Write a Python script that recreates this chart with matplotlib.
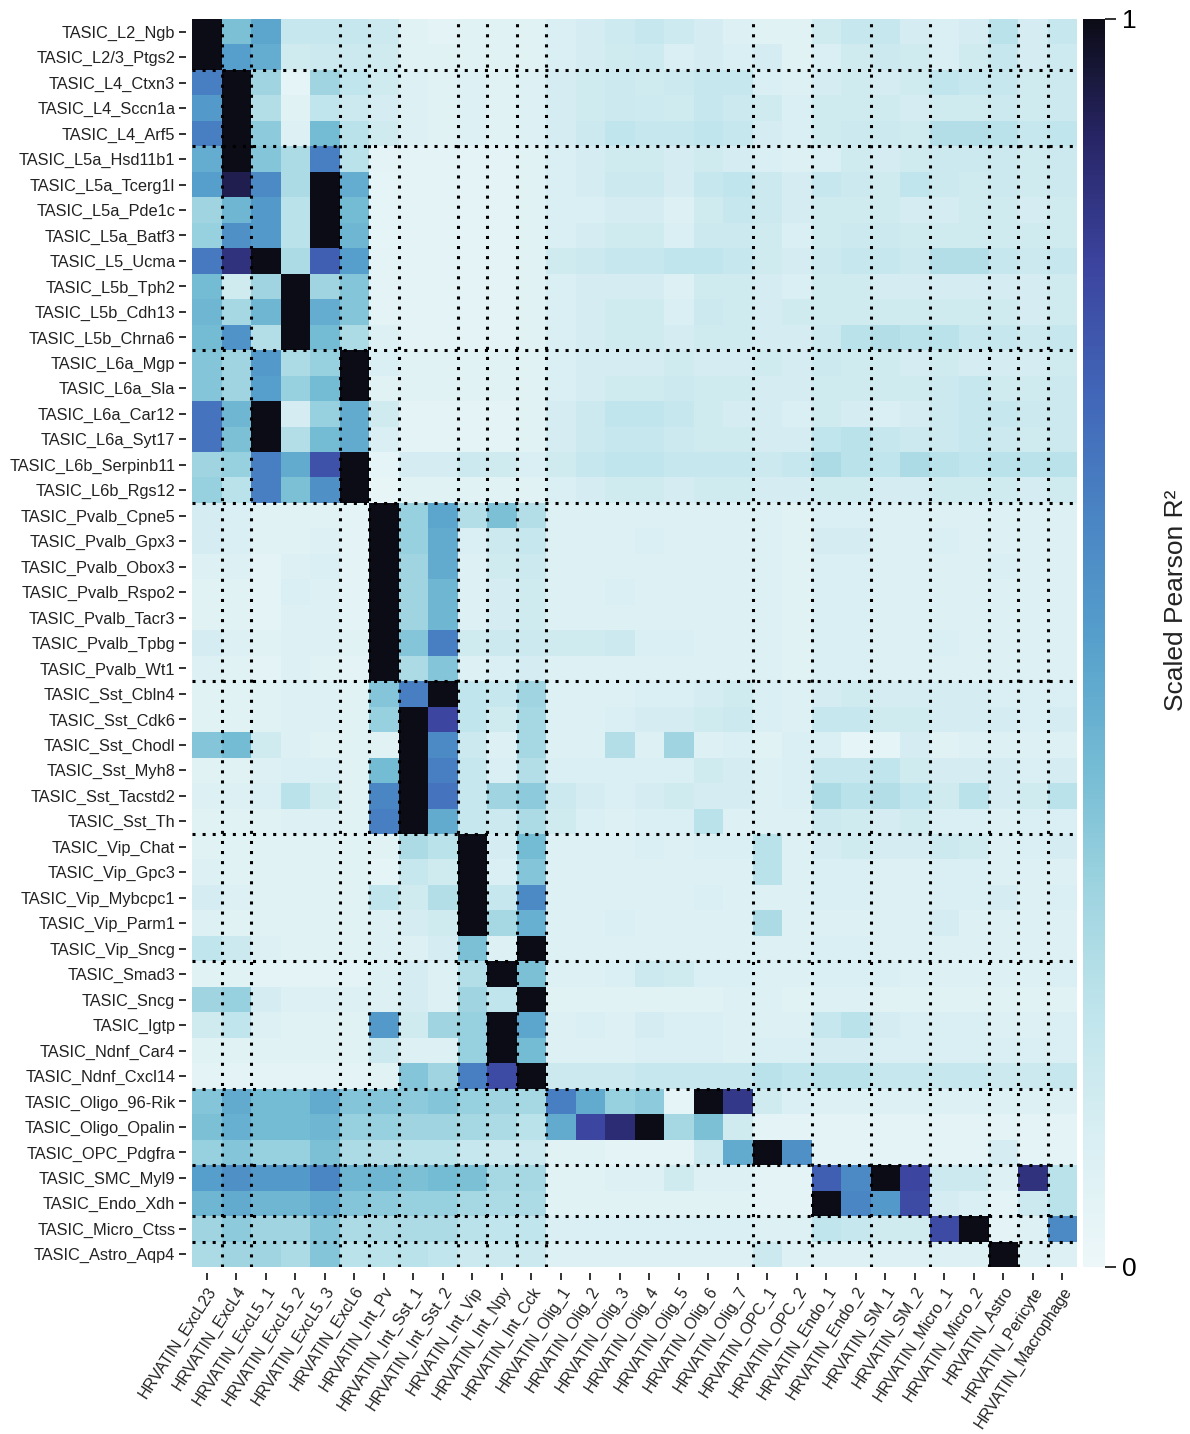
import numpy as np
import matplotlib
matplotlib.use("Agg")
import matplotlib.pyplot as plt
from matplotlib.colors import LinearSegmentedColormap

plt.rcParams['font.family'] = ['Liberation Sans', 'DejaVu Sans']

rows = ["TASIC_L2_Ngb", "TASIC_L2/3_Ptgs2", "TASIC_L4_Ctxn3", "TASIC_L4_Sccn1a", "TASIC_L4_Arf5",
        "TASIC_L5a_Hsd11b1", "TASIC_L5a_Tcerg1l", "TASIC_L5a_Pde1c", "TASIC_L5a_Batf3", "TASIC_L5_Ucma",
        "TASIC_L5b_Tph2", "TASIC_L5b_Cdh13", "TASIC_L5b_Chrna6", "TASIC_L6a_Mgp", "TASIC_L6a_Sla",
        "TASIC_L6a_Car12", "TASIC_L6a_Syt17", "TASIC_L6b_Serpinb11", "TASIC_L6b_Rgs12",
        "TASIC_Pvalb_Cpne5", "TASIC_Pvalb_Gpx3", "TASIC_Pvalb_Obox3", "TASIC_Pvalb_Rspo2",
        "TASIC_Pvalb_Tacr3", "TASIC_Pvalb_Tpbg", "TASIC_Pvalb_Wt1", "TASIC_Sst_Cbln4", "TASIC_Sst_Cdk6",
        "TASIC_Sst_Chodl", "TASIC_Sst_Myh8", "TASIC_Sst_Tacstd2", "TASIC_Sst_Th", "TASIC_Vip_Chat",
        "TASIC_Vip_Gpc3", "TASIC_Vip_Mybcpc1", "TASIC_Vip_Parm1", "TASIC_Vip_Sncg", "TASIC_Smad3",
        "TASIC_Sncg", "TASIC_Igtp", "TASIC_Ndnf_Car4", "TASIC_Ndnf_Cxcl14", "TASIC_Oligo_96-Rik",
        "TASIC_Oligo_Opalin", "TASIC_OPC_Pdgfra", "TASIC_SMC_Myl9", "TASIC_Endo_Xdh",
        "TASIC_Micro_Ctss", "TASIC_Astro_Aqp4"]

cols = ["HRVATIN_ExcL23", "HRVATIN_ExcL4", "HRVATIN_ExcL5_1", "HRVATIN_ExcL5_2", "HRVATIN_ExcL5_3",
        "HRVATIN_ExcL6", "HRVATIN_Int_Pv", "HRVATIN_Int_Sst_1", "HRVATIN_Int_Sst_2", "HRVATIN_Int_Vip",
        "HRVATIN_Int_Npy", "HRVATIN_Int_Cck", "HRVATIN_Olig_1", "HRVATIN_Olig_2", "HRVATIN_Olig_3",
        "HRVATIN_Olig_4", "HRVATIN_Olig_5", "HRVATIN_Olig_6", "HRVATIN_Olig_7", "HRVATIN_OPC_1",
        "HRVATIN_OPC_2", "HRVATIN_Endo_1", "HRVATIN_Endo_2", "HRVATIN_SM_1", "HRVATIN_SM_2",
        "HRVATIN_Micro_1", "HRVATIN_Micro_2", "HRVATIN_Astro", "HRVATIN_Pericyte", "HRVATIN_Macrophage"]

# scaled Pearson R^2, in percent (0-100), one row per TASIC type
values_pct = [
    [100, 38, 48, 18, 18, 18, 16, 6, 5, 6, 6, 6, 10, 12, 15, 18, 15, 12, 8, 6, 6, 14, 18, 18, 12, 10, 12, 22, 12, 18],
    [100, 50, 45, 14, 16, 16, 14, 6, 6, 6, 6, 6, 10, 12, 14, 15, 10, 12, 10, 12, 6, 10, 14, 16, 14, 10, 14, 18, 12, 15],
    [62, 100, 30, 4, 30, 20, 14, 8, 6, 8, 6, 8, 12, 14, 16, 14, 16, 18, 18, 10, 8, 12, 14, 12, 14, 20, 18, 18, 14, 16],
    [52, 100, 24, 6, 20, 16, 12, 8, 6, 8, 6, 8, 12, 14, 16, 15, 14, 18, 16, 14, 10, 14, 14, 14, 12, 14, 14, 16, 14, 16],
    [62, 100, 34, 8, 40, 22, 14, 8, 6, 8, 6, 8, 12, 16, 20, 18, 18, 20, 18, 12, 10, 14, 16, 16, 14, 24, 24, 22, 18, 20],
    [45, 100, 36, 26, 62, 22, 5, 5, 5, 5, 5, 6, 10, 12, 14, 14, 12, 14, 12, 10, 8, 10, 14, 12, 14, 16, 16, 16, 14, 16],
    [50, 93, 58, 26, 100, 45, 4, 5, 5, 5, 5, 6, 10, 12, 16, 16, 12, 18, 20, 16, 12, 18, 16, 14, 20, 16, 14, 16, 14, 16],
    [30, 42, 52, 22, 100, 40, 4, 5, 5, 5, 5, 6, 10, 10, 12, 12, 8, 14, 18, 16, 12, 14, 14, 14, 12, 12, 14, 14, 12, 14],
    [32, 56, 52, 22, 100, 42, 4, 5, 5, 5, 5, 6, 10, 12, 14, 14, 10, 16, 16, 14, 10, 14, 16, 16, 14, 14, 14, 14, 14, 14],
    [64, 86, 100, 26, 72, 50, 5, 5, 5, 5, 5, 6, 14, 16, 18, 18, 20, 20, 18, 14, 12, 16, 18, 18, 16, 24, 24, 18, 16, 18],
    [40, 14, 30, 100, 30, 36, 5, 5, 5, 5, 5, 6, 10, 12, 12, 12, 8, 14, 14, 12, 10, 14, 14, 12, 12, 12, 12, 12, 12, 14],
    [42, 28, 42, 100, 45, 36, 5, 5, 5, 5, 5, 6, 10, 12, 14, 14, 10, 16, 14, 12, 14, 14, 14, 14, 14, 14, 14, 14, 12, 14],
    [40, 55, 24, 100, 40, 26, 8, 5, 5, 5, 5, 6, 10, 12, 14, 14, 12, 14, 14, 12, 12, 16, 22, 24, 22, 22, 18, 18, 16, 18],
    [36, 30, 52, 26, 32, 100, 10, 6, 6, 6, 6, 6, 10, 12, 12, 12, 14, 12, 12, 14, 12, 16, 14, 14, 12, 14, 12, 12, 12, 14],
    [36, 30, 50, 32, 40, 100, 6, 6, 6, 6, 6, 6, 10, 12, 14, 14, 16, 14, 14, 12, 12, 14, 14, 14, 14, 16, 18, 14, 14, 16],
    [66, 42, 100, 12, 32, 46, 14, 5, 5, 5, 5, 6, 12, 16, 20, 20, 18, 14, 12, 12, 10, 14, 12, 10, 12, 16, 18, 18, 16, 16],
    [66, 38, 100, 24, 40, 46, 10, 5, 5, 5, 5, 6, 12, 16, 18, 18, 16, 14, 14, 12, 12, 20, 22, 18, 16, 16, 18, 16, 14, 16],
    [30, 32, 62, 46, 76, 100, 4, 12, 12, 16, 14, 10, 14, 18, 20, 20, 18, 18, 18, 16, 18, 26, 22, 20, 26, 22, 20, 22, 22, 22],
    [32, 22, 62, 38, 56, 100, 3, 6, 6, 6, 6, 6, 10, 12, 14, 14, 12, 14, 14, 12, 12, 14, 14, 12, 12, 14, 14, 14, 12, 14],
    [12, 10, 6, 6, 6, 5, 100, 32, 48, 24, 38, 24, 8, 8, 8, 8, 8, 8, 8, 8, 6, 10, 10, 8, 8, 8, 8, 8, 8, 8],
    [12, 10, 6, 6, 8, 5, 100, 32, 46, 10, 16, 18, 8, 8, 8, 10, 8, 8, 8, 8, 6, 12, 12, 8, 8, 10, 8, 8, 8, 8],
    [8, 8, 5, 8, 10, 5, 100, 30, 46, 8, 14, 16, 8, 8, 8, 8, 8, 8, 8, 8, 6, 10, 10, 8, 8, 8, 8, 10, 8, 8],
    [6, 6, 5, 10, 8, 5, 100, 30, 42, 8, 12, 14, 8, 8, 10, 8, 8, 8, 8, 8, 6, 10, 10, 8, 8, 8, 8, 8, 8, 8],
    [6, 6, 5, 8, 8, 5, 100, 30, 42, 8, 12, 14, 8, 8, 8, 8, 8, 8, 8, 8, 6, 10, 10, 8, 8, 8, 8, 8, 8, 8],
    [12, 8, 6, 8, 8, 6, 100, 36, 62, 14, 16, 16, 14, 14, 16, 10, 10, 8, 8, 8, 6, 10, 10, 8, 8, 10, 8, 8, 8, 8],
    [8, 6, 5, 8, 6, 5, 100, 26, 36, 8, 10, 12, 8, 8, 8, 8, 8, 8, 8, 8, 6, 10, 10, 8, 8, 8, 8, 8, 8, 8],
    [6, 6, 6, 8, 8, 6, 36, 62, 100, 20, 18, 30, 8, 8, 8, 10, 10, 12, 14, 10, 8, 12, 14, 12, 12, 12, 12, 10, 10, 10],
    [6, 6, 6, 8, 8, 6, 32, 100, 80, 20, 14, 28, 8, 8, 10, 12, 12, 14, 16, 10, 8, 18, 18, 14, 14, 12, 12, 12, 10, 12],
    [36, 40, 14, 8, 6, 6, 6, 100, 58, 16, 8, 28, 8, 8, 24, 8, 30, 8, 10, 6, 10, 10, 4, 4, 12, 6, 8, 8, 8, 8],
    [6, 6, 8, 10, 10, 6, 40, 100, 62, 18, 10, 24, 10, 10, 10, 10, 10, 14, 12, 8, 10, 18, 18, 20, 14, 12, 12, 12, 10, 12],
    [8, 8, 10, 22, 14, 6, 60, 100, 66, 18, 30, 34, 16, 12, 10, 12, 14, 12, 12, 8, 10, 26, 22, 24, 20, 14, 22, 12, 14, 22],
    [6, 6, 6, 8, 8, 6, 62, 100, 46, 18, 16, 26, 14, 10, 8, 10, 10, 22, 8, 8, 8, 16, 14, 12, 14, 10, 10, 8, 10, 10],
    [6, 6, 6, 6, 6, 6, 6, 26, 22, 100, 12, 40, 8, 8, 8, 10, 8, 10, 10, 22, 8, 12, 14, 12, 12, 16, 14, 8, 10, 12],
    [8, 6, 6, 6, 6, 6, 4, 18, 14, 100, 10, 36, 8, 8, 8, 8, 8, 8, 8, 22, 8, 10, 10, 8, 8, 10, 10, 8, 8, 8],
    [12, 8, 6, 6, 6, 6, 20, 14, 24, 100, 18, 58, 8, 8, 8, 8, 8, 10, 8, 8, 8, 10, 10, 8, 8, 10, 10, 12, 8, 10],
    [8, 6, 6, 6, 6, 6, 8, 12, 14, 100, 28, 44, 8, 8, 10, 8, 8, 8, 8, 26, 8, 8, 8, 8, 8, 12, 8, 8, 8, 8],
    [20, 16, 8, 6, 6, 6, 8, 8, 12, 38, 8, 100, 8, 8, 8, 8, 8, 8, 8, 8, 8, 10, 10, 8, 8, 8, 8, 8, 8, 8],
    [6, 6, 5, 5, 5, 5, 8, 12, 8, 24, 100, 38, 8, 8, 10, 16, 14, 10, 10, 8, 8, 10, 10, 10, 8, 8, 8, 8, 8, 10],
    [30, 32, 12, 8, 8, 8, 8, 12, 8, 30, 20, 100, 6, 6, 6, 6, 6, 6, 8, 8, 6, 8, 8, 6, 6, 6, 6, 6, 6, 6],
    [14, 20, 8, 6, 6, 6, 52, 14, 30, 32, 100, 48, 8, 10, 8, 12, 10, 10, 8, 8, 8, 18, 22, 12, 10, 10, 10, 8, 8, 10],
    [6, 6, 6, 6, 6, 6, 16, 8, 8, 32, 100, 40, 8, 8, 8, 10, 10, 10, 8, 10, 10, 12, 12, 10, 10, 10, 10, 10, 10, 10],
    [5, 5, 5, 5, 5, 5, 6, 36, 30, 62, 78, 100, 16, 16, 16, 18, 18, 18, 18, 22, 20, 22, 22, 18, 18, 18, 18, 16, 16, 18],
    [36, 46, 40, 40, 46, 36, 36, 34, 36, 32, 30, 28, 62, 46, 32, 34, 4, 100, 84, 14, 10, 8, 8, 8, 8, 8, 8, 8, 8, 8],
    [38, 44, 40, 40, 42, 32, 32, 30, 30, 28, 26, 22, 46, 80, 88, 100, 28, 38, 14, 5, 5, 5, 5, 5, 5, 5, 5, 5, 5, 5],
    [32, 36, 32, 32, 38, 26, 24, 22, 22, 18, 16, 16, 6, 6, 5, 5, 5, 16, 46, 100, 56, 5, 5, 5, 5, 5, 5, 12, 5, 5],
    [50, 56, 52, 52, 60, 42, 42, 38, 40, 38, 28, 28, 6, 6, 8, 8, 14, 8, 8, 5, 5, 72, 58, 100, 80, 16, 16, 8, 86, 22],
    [42, 46, 42, 42, 46, 36, 34, 32, 32, 28, 26, 26, 6, 6, 6, 6, 6, 6, 6, 5, 5, 100, 60, 52, 78, 12, 10, 5, 16, 22],
    [30, 34, 30, 30, 36, 26, 26, 26, 26, 22, 20, 20, 10, 10, 10, 10, 10, 10, 10, 8, 8, 20, 18, 14, 14, 78, 100, 5, 8, 58],
    [26, 30, 30, 26, 36, 22, 22, 22, 20, 16, 16, 16, 8, 8, 8, 8, 8, 8, 8, 16, 8, 8, 8, 8, 8, 8, 8, 100, 8, 8],
]

# group boundaries (index after which a dotted separator is drawn)
row_breaks = [2, 5, 13, 19, 26, 32, 37, 42, 45, 47, 48]
col_breaks = [1, 2, 5, 6, 7, 9, 10, 11, 12, 19, 21, 23, 25, 27, 28, 29]

cbar_ticks = [0, 1]
cbar_label = "Scaled Pearson R²"

data = np.array(values_pct, dtype=float) / 100.0

cmap = LinearSegmentedColormap.from_list("scaled", [
    (0.00, "#edf7f9"), (0.10, "#d9eff3"), (0.20, "#c0e5ec"), (0.30, "#9ed4e0"),
    (0.40, "#74bbd4"), (0.50, "#56a0cc"), (0.60, "#4a85c4"), (0.70, "#4166b8"),
    (0.80, "#3c45a0"), (0.90, "#29276a"), (1.00, "#0c0c17")])

W, H = 1190, 1434
fig = plt.figure(figsize=(W / 100, H / 100), dpi=100)
L, R, T, B = 192, 1077, 19, 1267
ax = fig.add_axes([L / W, 1 - B / H, (R - L) / W, (B - T) / H])
mesh = ax.pcolormesh(np.arange(len(cols) + 1), np.arange(len(rows) + 1), data,
                     cmap=cmap, vmin=0, vmax=1)
ax.set_xlim(0, len(cols))
ax.set_ylim(len(rows), 0)

dot = (0, (1, 2.3))
for rb in row_breaks:
    ax.axhline(rb, color="black", lw=2.2, linestyle=dot)
for cb_ in col_breaks:
    ax.axvline(cb_, color="black", lw=2.2, linestyle=dot)

for s in ax.spines.values():
    s.set_visible(False)
ax.spines['left'].set_position(('outward', 4))
ax.spines['bottom'].set_position(('outward', 4))

ax.set_yticks(np.arange(len(rows)) + 0.5)
ax.set_yticklabels(rows, fontsize=11.8, color="#222222")
ax.set_xticks(np.arange(len(cols)) + 0.5)
ax.set_xticklabels(cols, fontsize=11.5, color="#222222", rotation=57,
                   ha="right", va="top", rotation_mode="anchor")
ax.tick_params(axis="both", length=5, width=1.3, color="#222222", pad=3)

cax = fig.add_axes([1083 / W, 1 - B / H, 22 / W, (B - T) / H])
cbar = fig.colorbar(mesh, cax=cax, ticks=cbar_ticks)
cbar.outline.set_visible(False)
cax.tick_params(length=8, width=1.3, labelsize=19, pad=4, color="#222222")
cbar.ax.set_yticklabels([str(t) for t in cbar_ticks])
fig.text(1176 / W, 1 - 600 / H, cbar_label, rotation=90, ha="center", va="center",
         fontsize=19, color="#222222")

fig.savefig("out.png", dpi=100)
